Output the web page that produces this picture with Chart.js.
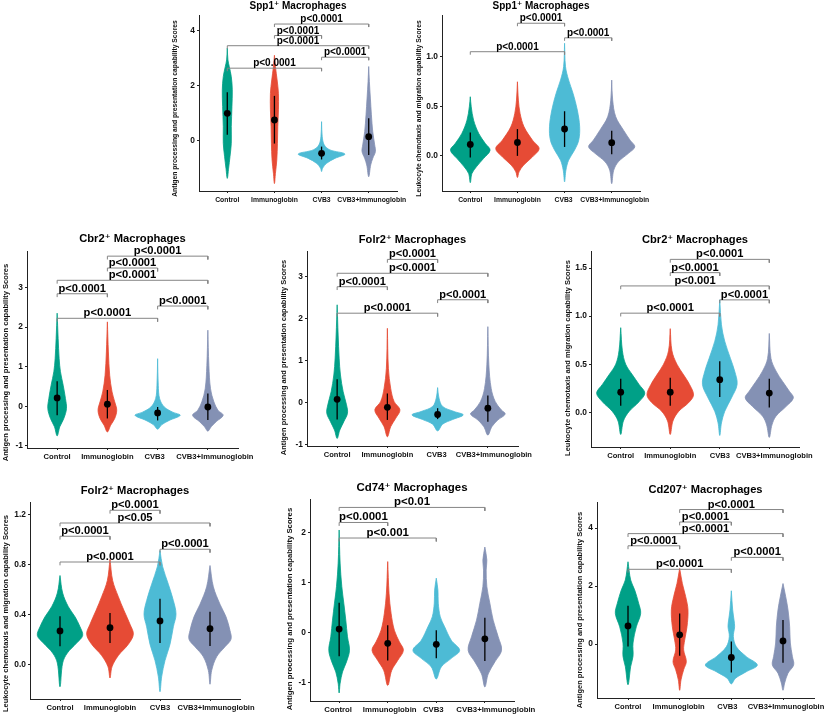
<!DOCTYPE html>
<html><head><meta charset="utf-8">
<script src="https://cdn.jsdelivr.net/npm/chart.js@4.4.1/dist/chart.umd.min.js"></script>
<style>
html,body{margin:0;padding:0;background:#fff;}
body{width:831px;height:719px;position:relative;overflow:hidden;}
canvas{position:absolute;}
</style></head><body>
<script>
// ---------- DATA ----------
const groups = ['Control','Immunoglobin','CVB3','CVB3+Immunoglobin'];
const antigenTitle = 'Antigen processing and presentation capability Scores';
const leukoTitle = 'Leukocyte chemotaxis and migration capability Scores';

// Panel A: Spp1+ antigen
const spp1AgMean = [0.985, 0.74, -0.475, 0.13];
const spp1AgLow  = [0.20, -0.12, -0.70, -0.54];
const spp1AgHigh = [1.75, 1.62, -0.23, 0.80];
const spp1AgViolins = [
  [[3.36,0],[2.93,.014],[2.69,.042],[2.32,.085],[1.84,.106],[1.23,.099],[0.50,.085],[-0.11,.085],[-0.60,.057],[-1.02,.028],[-1.39,0]],
  [[3.10,0],[2.69,.021],[2.20,.057],[1.71,.085],[1.11,.085],[0.50,.071],[-0.11,.064],[-0.72,.05],[-1.21,.021],[-1.58,0]],
  [[0.68,0],[0.13,.014],[-0.17,.057],[-0.35,.177],[-0.50,.495],[-0.66,.283],[-0.84,.106],[-1.02,.021],[-1.14,0]],
  [[2.69,0],[2.14,.014],[1.54,.035],[0.93,.057],[0.32,.085],[-0.17,.127],[-0.41,.142],[-0.66,.085],[-0.90,.042],[-1.33,0]]
];
const spp1AgBrackets = [[2,4,4.24,'p<0.0001'],[2,3,3.82,'p<0.0001'],[1,4,3.45,'p<0.0001'],[3,4,3.03,'p<0.0001'],[1,3,2.63,'p<0.0001']];
const spp1AgTicks = [0,2,4];
const spp1AgTickLabels = ['0','2','4'];
const spp1AgRange = [-1.85, 4.57];

// Panel B: Spp1+ leukocyte
const spp1LkMean = [0.115, 0.135, 0.271, 0.133];
const spp1LkLow  = [-0.016, 0.0, 0.09, 0.017];
const spp1LkHigh = [0.236, 0.27, 0.45, 0.253];
const spp1LkViolins = [
  [[0.596,0],[0.495,.02],[0.36,.07],[0.225,.18],[0.124,.32],[0.057,.42],[-0.027,.28],[-0.11,.13],[-0.178,.035],[-0.27,0]],
  [[0.747,0],[0.562,.02],[0.428,.056],[0.293,.14],[0.158,.32],[0.074,.46],[-0.01,.32],[-0.094,.13],[-0.16,.035],[-0.218,0]],
  [[1.135,0],[0.90,.02],[0.765,.085],[0.63,.18],[0.462,.27],[0.293,.32],[0.158,.30],[0.057,.21],[-0.044,.085],[-0.145,.028],[-0.262,0]],
  [[0.764,0],[0.562,.02],[0.394,.085],[0.259,.25],[0.158,.39],[0.091,.49],[0.024,.35],[-0.06,.14],[-0.145,.042],[-0.28,0]]
];
const spp1LkBrackets = [[2,3,1.337,'p<0.0001'],[3,4,1.19,'p<0.0001'],[1,3,1.05,'p<0.0001']];
const spp1LkTicks = [0,0.5,1.0];
const spp1LkTickLabels = ['0.0','0.5','1.0'];
const spp1LkRange = [-0.354, 1.42];

// Panel C: Cbr2+ antigen
const cbr2AgMean = [0.21, 0.05, -0.17, -0.02];
const cbr2AgLow  = [-0.23, -0.31, -0.36, -0.35];
const cbr2AgHigh = [0.63, 0.41, -0.02, 0.32];
const cbr2AgViolins = [
  [[2.35,0],[1.71,.02],[1.2,.04],[0.87,.066],[0.53,.12],[0.19,.166],[-0.06,.186],[-0.31,.133],[-0.52,.053],[-0.75,0]],
  [[2.13,0],[1.37,.02],[0.78,.046],[0.36,.093],[0.11,.146],[-0.10,.186],[-0.31,.146],[-0.48,.066],[-0.65,0]],
  [[1.2,0],[0.53,.013],[0.19,.04],[-0.02,.133],[-0.15,.30],[-0.23,.45],[-0.36,.23],[-0.47,.08],[-0.58,0]],
  [[1.92,0],[1.03,.02],[0.44,.053],[0.11,.12],[-0.10,.2],[-0.23,.305],[-0.39,.166],[-0.52,.066],[-0.63,0]]
];
const cbr2AgBrackets = [[2,4,3.79,'p<0.0001'],[2,3,3.49,'p<0.0001'],[1,4,3.18,'p<0.0001'],[1,2,2.84,'p<0.0001'],[3,4,2.53,'p<0.0001'],[1,3,2.22,'p<0.0001']];
const cbr2AgTicks = [-1,0,1,2,3];
const cbr2AgTickLabels = ['-1','0','1','2','3'];
const cbr2AgRange = [-1.056, 3.92];

// Panel D: Folr2+ antigen
const folr2AgMean = [0.07, -0.12, -0.29, -0.14];
const folr2AgLow  = [-0.41, -0.42, -0.40, -0.46];
const folr2AgHigh = [0.55, 0.21, -0.14, 0.16];
const folr2AgViolins = [
  [[2.32,0],[1.6,.02],[1.05,.04],[0.65,.066],[0.25,.12],[-0.06,.186],[-0.26,.206],[-0.46,.133],[-0.66,.053],[-0.86,0]],
  [[1.76,0],[0.81,.02],[0.33,.066],[0.02,.133],[-0.18,.25],[-0.38,.166],[-0.58,.066],[-0.82,0]],
  [[0.35,0],[0.1,.027],[-0.1,.1],[-0.22,.33],[-0.30,.51],[-0.41,.30],[-0.52,.1],[-0.68,0]],
  [[1.8,0],[0.89,.02],[0.33,.066],[0.02,.146],[-0.18,.266],[-0.28,.345],[-0.42,.2],[-0.58,.08],[-0.78,0]]
];
const folr2AgBrackets = [[2,3,3.40,'p<0.0001'],[1,4,3.07,'p<0.0001'],[1,2,2.75,'p<0.0001'],[3,4,2.44,'p<0.0001'],[1,3,2.12,'p<0.0001']];
const folr2AgTicks = [-1,0,1,2,3];
const folr2AgTickLabels = ['-1','0','1','2','3'];
const folr2AgRange = [-1.04, 3.60];

// Panel E: Cbr2+ leukocyte
const cbr2LkMean = [0.21, 0.21, 0.34, 0.20];
const cbr2LkLow  = [0.07, 0.07, 0.16, 0.05];
const cbr2LkHigh = [0.35, 0.36, 0.53, 0.35];
const cbr2LkViolins = [
  [[0.88,0],[0.64,.034],[0.5,.1],[0.39,.236],[0.29,.37],[0.20,.486],[0.11,.37],[0.01,.17],[-0.09,.054],[-0.23,0]],
  [[0.87,0],[0.64,.034],[0.5,.135],[0.39,.27],[0.29,.39],[0.18,.47],[0.10,.37],[0.01,.17],[-0.09,.054],[-0.23,0]],
  [[1.17,0],[0.91,.034],[0.74,.1],[0.56,.216],[0.43,.30],[0.29,.35],[0.15,.236],[0.01,.1],[-0.11,.034],[-0.24,0]],
  [[0.82,0],[0.56,.034],[0.43,.135],[0.32,.27],[0.22,.405],[0.15,.486],[0.06,.337],[-0.04,.135],[-0.13,.054],[-0.26,0]]
];
const cbr2LkBrackets = [[2,4,1.59,'p<0.0001'],[2,3,1.452,'p<0.0001'],[1,4,1.314,'p<0.001'],[3,4,1.169,'p<0.0001'],[1,3,1.031,'p<0.0001']];
const cbr2LkTicks = [0,0.5,1.0,1.5];
const cbr2LkTickLabels = ['0.0','0.5','1.0','1.5'];
const cbr2LkRange = [-0.36, 1.677];

// Panel F: Folr2+ leukocyte
const folr2LkMean = [0.267, 0.293, 0.347, 0.285];
const folr2LkLow  = [0.145, 0.17, 0.17, 0.147];
const folr2LkHigh = [0.385, 0.41, 0.525, 0.42];
const folr2LkViolins = [
  [[0.71,0],[0.57,.053],[0.46,.167],[0.38,.30],[0.30,.40],[0.23,.453],[0.17,.333],[0.09,.147],[0.01,.053],[-0.18,0]],
  [[0.84,0],[0.67,.053],[0.54,.167],[0.43,.28],[0.32,.40],[0.24,.467],[0.16,.367],[0.07,.167],[-0.02,.04],[-0.11,0]],
  [[0.91,0],[0.78,.053],[0.64,.167],[0.51,.267],[0.40,.32],[0.30,.267],[0.16,.2],[0.03,.1],[-0.10,.033],[-0.22,0]],
  [[0.79,0],[0.62,.067],[0.48,.2],[0.38,.32],[0.27,.4],[0.20,.42],[0.14,.3],[0.06,.133],[-0.05,.033],[-0.16,0]]
];
const folr2LkBrackets = [[2,3,1.232,'p<0.0001'],[1,4,1.13,'p<0.05'],[1,2,1.024,'p<0.0001'],[3,4,0.92,'p<0.0001'],[1,3,0.818,'p<0.0001']];
const folr2LkTicks = [0,0.4,0.8,1.2];
const folr2LkTickLabels = ['0.0','0.4','0.8','1.2'];
const folr2LkRange = [-0.278, 1.298];

// Panel G: Cd74+ antigen
const cd74AgMean = [0.074, -0.21, -0.23, -0.12];
const cd74AgLow  = [-0.47, -0.55, -0.51, -0.56];
const cd74AgHigh = [0.60, 0.15, 0.05, 0.30];
const cd74AgViolins = [
  [[2.05,0],[1.39,.02],[0.92,.055],[0.59,.096],[0.25,.137],[-0.08,.172],[-0.35,.213],[-0.58,.151],[-0.78,.069],[-1.01,.02],[-1.2,0]],
  [[1.42,0],[0.79,.027],[0.39,.069],[0.05,.137],[-0.18,.24],[-0.35,.323],[-0.55,.206],[-0.75,.082],[-1.05,0]],
  [[1.09,0],[0.85,.034],[0.59,.041],[0.32,.082],[0.12,.172],[-0.15,.309],[-0.35,.481],[-0.51,.309],[-0.68,.103],[-0.92,0]],
  [[1.71,0],[1.45,.041],[1.25,.027],[0.92,.041],[0.59,.103],[0.25,.172],[-0.08,.275],[-0.35,.344],[-0.58,.206],[-0.82,.069],[-1.08,0]]
];
const cd74AgBrackets = [[1,4,2.50,'p<0.01'],[1,2,2.20,'p<0.0001'],[1,3,1.89,'p<0.001']];
const cd74AgTicks = [-1,0,1,2];
const cd74AgTickLabels = ['-1','0','1','2'];
const cd74AgRange = [-1.36, 2.668];

// Panel H: Cd207+ antigen
const cd207AgMean = [0.63, 0.32, -0.46, 0.11];
const cd207AgLow  = [-0.08, -0.40, -0.98, -0.64];
const cd207AgHigh = [1.32, 1.06, 0.09, 0.83];
const cd207AgViolins = [
  [[2.84,0],[2.21,.052],[1.87,.129],[1.41,.206],[1.06,.245],[0.60,.161],[0.04,.097],[-0.42,.097],[-0.77,.052],[-1.40,0]],
  [[2.61,0],[2.09,.052],[1.64,.116],[1.18,.161],[0.60,.142],[0.14,.097],[-0.20,.077],[-0.60,.129],[-0.88,.077],[-1.23,.026],[-1.59,0]],
  [[1.84,0],[1.18,.026],[0.83,.052],[0.60,.064],[0.26,.039],[-0.09,.097],[-0.43,.29],[-0.72,.503],[-0.95,.29],[-1.18,.077],[-1.37,0]],
  [[2.09,0],[1.64,.052],[1.18,.097],[0.60,.129],[0.04,.142],[-0.42,.181],[-0.72,.206],[-1.00,.097],[-1.34,.032],[-1.59,0]]
];
const cd207AgBrackets = [[2,4,4.64,'p<0.0001'],[2,3,4.21,'p<0.0001'],[1,4,3.81,'p<0.0001'],[1,2,3.39,'p<0.0001'],[3,4,2.99,'p<0.0001'],[1,3,2.58,'p<0.0001']];
const cd207AgTicks = [0,2,4];
const cd207AgTickLabels = ['0','2','4'];
const cd207AgRange = [-1.856, 4.90];

// ---------- STYLE / LAYOUT ----------
const colors = ['#00A087','#E64B35','#4DBBD5','#8491B4'];
const FONT = "'Liberation Sans', Arial, Helvetica, 'DejaVu Sans', sans-serif";

const panels = [
  {title:'Spp1\u207A Macrophages', yTitle:antigenTitle, mean:spp1AgMean, low:spp1AgLow, high:spp1AgHigh, violins:spp1AgViolins, brackets:spp1AgBrackets, ticks:spp1AgTicks, tickLabels:spp1AgTickLabels, range:spp1AgRange,
   rect:[199,15,397,191], yTitleOffset:24, yTitleShift:5.5, titleCenter:9, labelShift:[0,0,0,3]},
  {title:'Spp1\u207A Macrophages', yTitle:leukoTitle, mean:spp1LkMean, low:spp1LkLow, high:spp1LkHigh, violins:spp1LkViolins, brackets:spp1LkBrackets, ticks:spp1LkTicks, tickLabels:spp1LkTickLabels, range:spp1LkRange,
   rect:[442,15,640,191], yTitleOffset:22.4, yTitleShift:5.5, titleCenter:8.3, labelShift:[0,0,-1,3]},
  {title:'Cbr2\u207A Macrophages', yTitle:antigenTitle, mean:cbr2AgMean, low:cbr2AgLow, high:cbr2AgHigh, violins:cbr2AgViolins, brackets:cbr2AgBrackets, ticks:cbr2AgTicks, tickLabels:cbr2AgTickLabels, range:cbr2AgRange,
   rect:[27,251,238,448], yTitleOffset:21.3, yTitleShift:13, titleCenter:12, labelShift:[0,0,-3,7]},
  {title:'Folr2\u207A Macrophages', yTitle:antigenTitle, mean:folr2AgMean, low:folr2AgLow, high:folr2AgHigh, violins:folr2AgViolins, brackets:folr2AgBrackets, ticks:folr2AgTicks, tickLabels:folr2AgTickLabels, range:folr2AgRange,
   rect:[307,251,518,446], yTitleOffset:23.3, yTitleShift:9, titleCenter:11, labelShift:[0,0,-1,6]},
  {title:'Cbr2\u207A Macrophages', yTitle:leukoTitle, mean:cbr2LkMean, low:cbr2LkLow, high:cbr2LkHigh, violins:cbr2LkViolins, brackets:cbr2LkBrackets, ticks:cbr2LkTicks, tickLabels:cbr2LkTickLabels, range:cbr2LkRange,
   rect:[591,251,799,447], yTitleOffset:22.7, yTitleShift:9, titleCenter:11, labelShift:[0,0,0,5]},
  {title:'Folr2\u207A Macrophages', yTitle:leukoTitle, mean:folr2LkMean, low:folr2LkLow, high:folr2LkHigh, violins:folr2LkViolins, brackets:folr2LkBrackets, ticks:folr2LkTicks, tickLabels:folr2LkTickLabels, range:folr2LkRange,
   rect:[30,502,240,699], yTitleOffset:24, yTitleShift:13, titleCenter:11, labelShift:[0,0,0,6]},
  {title:'Cd74\u207A Macrophages', yTitle:antigenTitle, mean:cd74AgMean, low:cd74AgLow, high:cd74AgHigh, violins:cd74AgViolins, brackets:cd74AgBrackets, ticks:cd74AgTicks, tickLabels:cd74AgTickLabels, range:cd74AgRange,
   rect:[310,499,514,701], yTitleOffset:20.6, yTitleShift:9, titleCenter:11.6, labelShift:[-1,2,-3,11]},
  {title:'Cd207\u207A Macrophages', yTitle:antigenTitle, mean:cd207AgMean, low:cd207AgLow, high:cd207AgHigh, violins:cd207AgViolins, brackets:cd207AgBrackets, ticks:cd207AgTicks, tickLabels:cd207AgTickLabels, range:cd207AgRange,
   rect:[597,502,814,698], yTitleOffset:16.7, yTitleShift:10, titleCenter:11.7, labelShift:[0,-1,-4,3]}
];

function makePanel(p, idx) {
  const [pl, pt, pr, pb] = p.rect;
  const s = (pb - pt) / 176;
  const titleSize = 10 * s, titleLH = titleSize * 1.2;
  let padBottom = p.titleCenter - titleLH / 2;
  let top = Math.floor(pt - titleLH - padBottom);
  if (top < 0) top = 0;
  let padTop = pt - top - titleLH - padBottom;
  if (padTop < 0) { padBottom += padTop; padTop = 0; }
  const yTitleSize = 6.75 * s;
  const left = Math.max(0, Math.floor(pl - (p.yTitleOffset + yTitleSize * 0.8)));
  const W = pl - left;
  const XH = 24, PR = 30;
  const cw = pr - left + PR, ch = pb - top + XH;
  const canvas = document.createElement('canvas');
  canvas.width = cw; canvas.height = ch;
  canvas.style.left = left + 'px'; canvas.style.top = top + 'px';
  canvas.style.width = cw + 'px'; canvas.style.height = ch + 'px';
  document.body.appendChild(canvas);

  const [yMin, yMax] = p.range;
  const tick = 3 * s * (yMax - yMin) / (pb - pt);
  const ds = [];
  ds.push({data: p.mean.map((m, i) => ({x: i + 1, y: m})), showLine: false, pointRadius: 3.4,
           pointBackgroundColor: '#000', pointBorderColor: '#000', pointBorderWidth: 0, order: 0});
  p.low.forEach((lo, i) => ds.push({data: [{x: i + 1, y: lo}, {x: i + 1, y: p.high[i]}], showLine: true,
           borderColor: '#000', borderWidth: 1.3, pointRadius: 0, fill: false, order: 1}));
  p.brackets.forEach(([a, b, yv]) => ds.push({data: [{x: a, y: yv - tick}, {x: a, y: yv}, {x: b, y: yv}, {x: b, y: yv - tick}],
           showLine: true, borderColor: '#858585', borderWidth: 1, pointRadius: 0, fill: false, tension: 0, order: 2}));
  p.violins.forEach((v, i) => {
    const right = v.map(([y, w]) => ({x: i + 1 + w, y}));
    const leftSide = v.slice().reverse().map(([y, w]) => ({x: i + 1 - w, y}));
    ds.push({data: right.concat(leftSide.slice(1)), showLine: true, fill: 'shape', backgroundColor: colors[i],
             borderColor: colors[i], borderWidth: 0.8, pointRadius: 0, tension: 0.35, order: 3});
  });

  const textPlugin = {
    id: 'panelText' + idx,
    afterDatasetsDraw(chart) {
      const {ctx, scales: {x, y}, chartArea} = chart;
      ctx.save();
      // bracket p-value labels
      ctx.font = `bold ${10 * s}px ${FONT}`;
      ctx.fillStyle = '#000';
      ctx.textAlign = 'center';
      ctx.textBaseline = 'alphabetic';
      p.brackets.forEach(([a, b, yv, lab]) => {
        ctx.fillText(lab, x.getPixelForValue((a + b) / 2), y.getPixelForValue(yv) - 1.8 * s);
      });
      // category labels
      ctx.font = `bold ${6.8 * s}px ${FONT}`;
      ctx.fillStyle = '#111';
      ctx.textBaseline = 'middle';
      groups.forEach((g, i) => {
        ctx.fillText(g, x.getPixelForValue(i + 1) + p.labelShift[i], chartArea.bottom + 8.8);
      });
      // y-axis title
      ctx.font = `bold ${yTitleSize}px ${FONT}`;
      ctx.translate(chartArea.left - p.yTitleOffset, (chartArea.top + chartArea.bottom) / 2 + p.yTitleShift);
      ctx.rotate(-Math.PI / 2);
      ctx.fillText(p.yTitle, 0, 0);
      ctx.restore();
    }
  };

  const axisGrid = {display: true, drawOnChartArea: false, drawTicks: true, tickLength: 2, color: '#222', tickColor: '#222', lineWidth: 1};
  new Chart(canvas, {
    type: 'scatter',
    data: {datasets: ds},
    options: {
      responsive: false, animation: false, events: [],
      layout: {padding: {left: 0, top: 0, right: PR, bottom: 0}},
      plugins: {
        legend: {display: false}, tooltip: {enabled: false},
        title: {display: true, text: p.title, fullSize: false, color: '#000',
                font: {family: FONT, size: titleSize, weight: 'bold', lineHeight: 1.2},
                padding: {top: padTop, bottom: padBottom}}
      },
      scales: {
        x: {type: 'linear', min: 0.4, max: 4.6,
            afterBuildTicks: sc => { sc.ticks = [1, 2, 3, 4].map(v => ({value: v})); },
            afterFit: sc => { sc.height = XH; sc.paddingLeft = 0; sc.paddingRight = 0; },
            ticks: {callback: () => '', autoSkip: false, maxRotation: 0, minRotation: 0, padding: 2,
                    font: {family: FONT, size: 6.8 * s, weight: 'bold'}},
            grid: axisGrid, border: {display: true, color: '#222', width: 1}},
        y: {type: 'linear', min: yMin, max: yMax,
            afterBuildTicks: sc => { sc.ticks = p.ticks.map(v => ({value: v})); },
            afterFit: sc => { sc.width = W; sc.paddingTop = 0; sc.paddingBottom = 0; },
            ticks: {callback: (v, i) => p.tickLabels[i], autoSkip: false, padding: 2, color: '#111',
                    font: {family: FONT, size: 8.4, weight: 'bold'}},
            title: {display: false},
            grid: axisGrid, border: {display: true, color: '#222', width: 1}}
      }
    },
    plugins: [textPlugin]
  });
}
panels.forEach(makePanel);
</script>
</body></html>
